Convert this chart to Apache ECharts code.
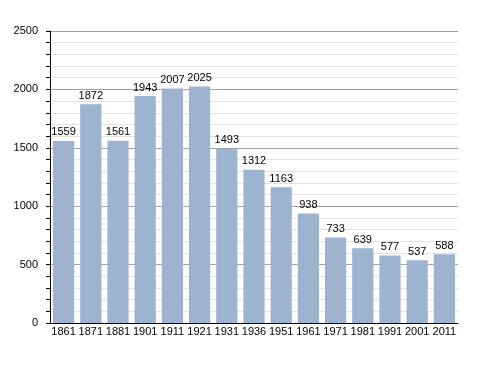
<!DOCTYPE html>
<html><head><meta charset="utf-8">
<script src="https://cdn.jsdelivr.net/npm/echarts@6/dist/echarts.min.js"></script>
<style>html,body{margin:0;padding:0;background:#fff}#c{width:488px;height:373px}</style>
</head><body><div id="c"></div>
<script>
var categories = ['1861','1871','1881','1901','1911','1921','1931','1936','1951','1961','1971','1981','1991','2001','2011'];
var population = [1559,1872,1561,1943,2007,2025,1493,1312,1163,938,733,639,577,537,588];
var yMin = 0, yMax = 2500, yInterval = 500;

var chart = echarts.init(document.getElementById('c'), null, {renderer:'canvas'});
var font = 'Liberation Sans, Arial, sans-serif';
chart.setOption({
  animation: false,
  grid: {left: 50, right: 30, top: 31, bottom: 50, containLabel: false},
  xAxis: {
    type: 'category', data: categories,
    axisLine: {lineStyle: {color: '#000', width: 1}},
    axisTick: {show: false},
    axisLabel: {color: '#000', fontFamily: font, fontSize: 11, margin: 3, interval: 0}
  },
  yAxis: {
    type: 'value', min: yMin, max: yMax, interval: yInterval,
    axisLine: {show: true, lineStyle: {color: '#000', width: 1}},
    axisTick: {show: true, inside: false, length: 4, lineStyle: {color: '#000'}},
    minorTick: {show: true, splitNumber: 5, length: 4, lineStyle: {color: '#000'}},
    splitLine: {show: true, lineStyle: {color: '#a0a0a0', width: 1}},
    minorSplitLine: {show: true, lineStyle: {color: '#e2e2e2', width: 1}},
    axisLabel: {color: '#000', fontFamily: font, fontSize: 11, margin: 12,
      formatter: function (v) { return String(v); }}
  },
  series: [{
    type: 'bar', data: population,
    barCategoryGap: '22%',
    itemStyle: {color: '#9cb4d0'},
    label: {show: true, position: 'top', color: '#000', fontFamily: font, fontSize: 11, distance: 3}
  }]
});
</script></body></html>
